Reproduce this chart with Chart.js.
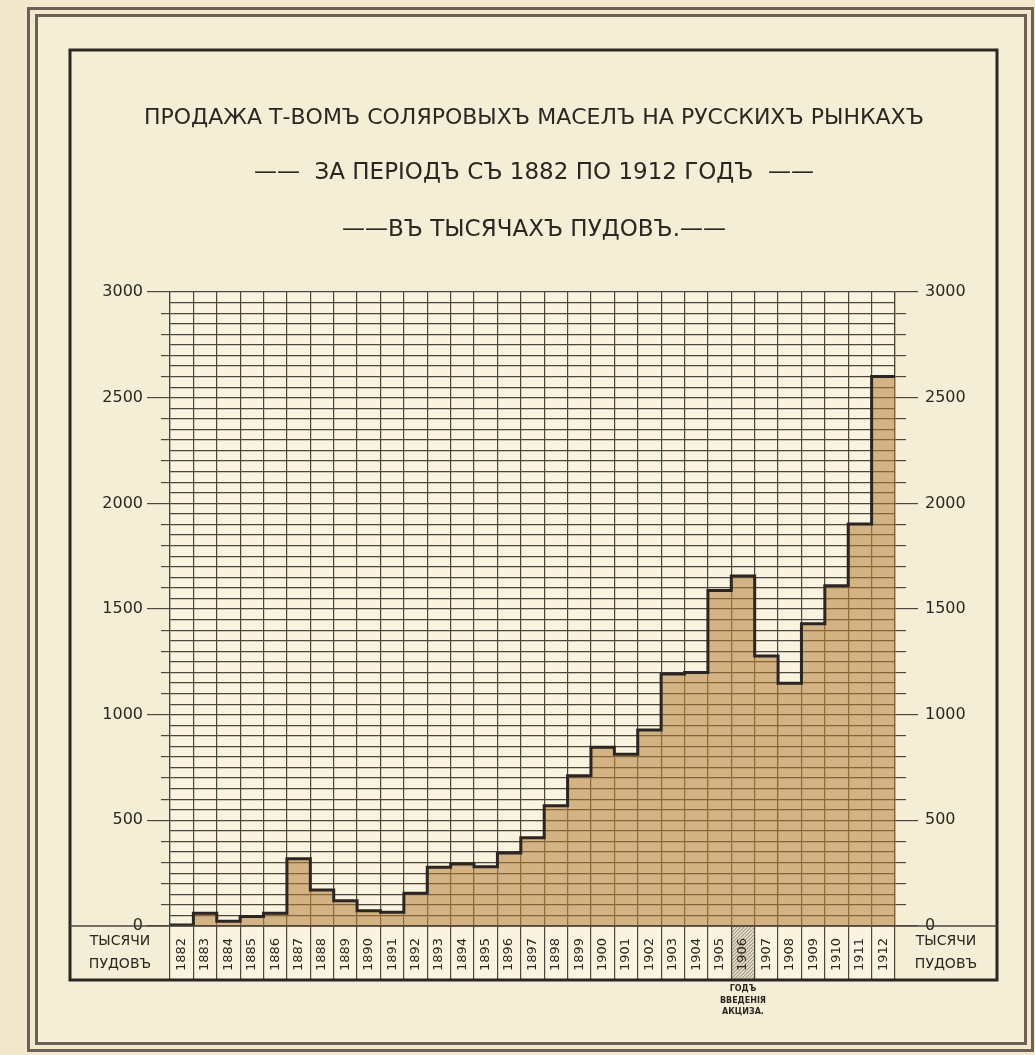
<!DOCTYPE html>
<html lang="ru">
<head>
<meta charset="utf-8">
<title>Продажа соляровых масел 1882–1912</title>
<script src="https://cdn.jsdelivr.net/npm/chart.js@4.4.1/dist/chart.umd.min.js"></script>
<style>
  html, body { margin: 0; padding: 0; background: #f2e9cd; }
  canvas { display: block; }
</style>
</head>
<body>
<canvas id="chart" width="1035" height="1055"></canvas>
<script>
  // годы и продажа в тысячах пудов
  const years = [1882, 1883, 1884, 1885, 1886, 1887, 1888, 1889, 1890, 1891,
                 1892, 1893, 1894, 1895, 1896, 1897, 1898, 1899, 1900, 1901,
                 1902, 1903, 1904, 1905, 1906, 1907, 1908, 1909, 1910, 1911, 1912];
  const sales = [5, 60, 22, 45, 60, 318, 170, 120, 72, 65,
                 155, 278, 293, 280, 345, 418, 569, 711, 846, 813,
                 928, 1193, 1199, 1587, 1656, 1278, 1149, 1430, 1610, 1902, 2600];
  const exciseYear = 1906;
  const exciseNote = ['ГОДЪ', 'ВВЕДЕНІЯ', 'АКЦИЗА.'];
  const unitLabel = ['ТЫСЯЧИ', 'ПУДОВЪ'];

  const ink = '#2b2621';
  const gridInk = '#4d453e';
  const font = "'DejaVu Sans', sans-serif";

  // ступенчатый контур по границам столбцов
  const stepPoints = sales.map((v, i) => ({ x: i - 0.5, y: v }));
  stepPoints.push({ x: sales.length - 0.5, y: sales[sales.length - 1] });

  const ROW_H = 54;   // строка с годами под графиком

  const paper = {
    id: 'paper',
    beforeDraw(chart) {
      const { ctx, chartArea: a, scales } = chart;
      const rowBottom = a.bottom + ROW_H;
      ctx.save();
      ctx.fillStyle = '#f2e9cd';
      ctx.fillRect(0, 0, chart.width, chart.height);
      ctx.fillStyle = '#f5eed6';
      ctx.fillRect(36, 15, 990, 1028);
      ctx.fillStyle = '#f9f3df';
      ctx.fillRect(a.left, a.top, a.right - a.left, rowBottom - a.top);

      // штриховка года введения акциза
      const i = years.indexOf(exciseYear);
      const x0 = scales.xs.getPixelForValue(i - 0.5);
      const x1 = scales.xs.getPixelForValue(i + 0.5);
      ctx.beginPath();
      ctx.rect(x0, a.bottom, x1 - x0, ROW_H);
      ctx.clip();
      ctx.fillStyle = '#e6dcc4';
      ctx.fillRect(x0, a.bottom, x1 - x0, ROW_H);
      ctx.strokeStyle = '#8d8379';
      ctx.lineWidth = 1;
      for (let d = -ROW_H; d < x1 - x0 + ROW_H; d += 3.5) {
        ctx.beginPath();
        ctx.moveTo(x0 + d, rowBottom);
        ctx.lineTo(x0 + d + ROW_H, a.bottom);
        ctx.stroke();
      }
      ctx.restore();
    },
    afterDraw(chart) {
      const { ctx, chartArea: a, scales } = chart;
      const rowBottom = a.bottom + ROW_H;
      ctx.save();

      // двойная рамка листа
      ctx.strokeStyle = '#6c6057';
      ctx.lineWidth = 3;
      ctx.strokeRect(28.5, 8.5, 1004, 1042);
      ctx.strokeRect(36.5, 15.5, 989, 1028);

      // рамка таблицы
      ctx.strokeStyle = ink;
      ctx.lineWidth = 3;
      ctx.strokeRect(70, 50, 927, rowBottom - 50);

      // линия нуля через всю ширину
      ctx.lineWidth = 1.5;
      ctx.strokeStyle = gridInk;
      ctx.beginPath();
      ctx.moveTo(70, a.bottom);
      ctx.lineTo(997, a.bottom);
      ctx.stroke();

      // подписи единиц в крайних клетках
      ctx.fillStyle = ink;
      ctx.textAlign = 'center';
      ctx.textBaseline = 'middle';
      ctx.font = "14px " + font;
      const lx = (70 + a.left) / 2;
      const rx = (a.right + 997) / 2;
      unitLabel.forEach((t, k) => {
        ctx.fillText(t, lx, a.bottom + 15 + k * 23);
        ctx.fillText(t, rx, a.bottom + 15 + k * 23);
      });

      // примечание под 1906 годом
      const i = years.indexOf(exciseYear);
      const cx = scales.xs.getPixelForValue(i);
      ctx.font = "bold 8px " + font;
      exciseNote.forEach((t, k) => ctx.fillText(t, cx, rowBottom + 9 + k * 11.5));
      ctx.restore();
    }
  };

  const tick100 = c => (c.tick && c.tick.value % 100 === 0) ? gridInk : 'rgba(0,0,0,0)';
  const plain = { useGrouping: false };

  const chart = new Chart(document.getElementById('chart'), {
    data: {
      labels: years,
      datasets: [{
        type: 'line',
        data: stepPoints,
        xAxisID: 'xs',
        yAxisID: 'y',
        stepped: 'before',
        borderColor: ink,
        borderWidth: 3,
        pointRadius: 0,
        fill: false,
        order: 1
      }, {
        type: 'bar',
        data: sales,
        xAxisID: 'x',
        yAxisID: 'y',
        backgroundColor: 'rgba(180,125,55,0.55)',
        borderWidth: 0,
        grouped: false,
        categoryPercentage: 1,
        barPercentage: 1,
        order: 2
      }]
    },
    options: {
      responsive: false,
      animation: false,
      events: [],
      layout: { padding: { left: 33, right: 0, top: 0, bottom: 75 } },
      plugins: {
        legend: { display: false },
        tooltip: { enabled: false },
        title: {
          display: true,
          text: 'ПРОДАЖА Т-ВОМЪ СОЛЯРОВЫХЪ МАСЕЛЪ НА РУССКИХЪ РЫНКАХЪ',
          color: ink,
          font: { family: font, size: 22, weight: 'normal', lineHeight: 1.2 },
          padding: { top: 105, bottom: 0 }
        },
        subtitle: {
          display: true,
          text: ['——  ЗА ПЕРІОДЪ СЪ 1882 ПО 1912 ГОДЪ  ——', '——ВЪ ТЫСЯЧАХЪ ПУДОВЪ.——'],
          color: ink,
          font: { family: font, size: 23, weight: 'normal', lineHeight: 2.47 },
          padding: { top: 13, bottom: 34 }
        }
      },
      scales: {
        x: {
          type: 'category',
          offset: true,
          grid: { offset: true, color: gridInk, tickColor: gridInk, lineWidth: 1.2, tickLength: 53 },
          border: { color: gridInk, width: 1.2 },
          ticks: {
            color: ink, font: { family: font, size: 13 },
            minRotation: 90, maxRotation: 90, autoSkip: false, padding: -41
          },
          afterFit: s => { s.height = ROW_H; }
        },
        xs: { type: 'linear', display: false, offset: false, min: -0.5, max: years.length - 0.5 },
        y: {
          position: 'left', weight: 0, min: 0, max: 3000,
          ticks: { display: false, stepSize: 50 },
          grid: { color: gridInk, tickColor: tick100, lineWidth: 1.2, tickLength: 9 },
          border: { color: gridInk, width: 1.2 },
          afterFit: s => { s.width = 9; }
        },
        yl: {
          position: 'left', weight: 1, min: 0, max: 3000,
          ticks: { stepSize: 500, format: plain, color: ink, padding: 4, font: { family: font, size: 16 } },
          grid: { drawOnChartArea: false, tickColor: gridInk, lineWidth: 1.2, tickLength: 14 },
          border: { display: false },
          afterFit: s => { s.width = 128; }
        },
        y2: {
          position: 'right', weight: 0, min: 0, max: 3000,
          ticks: { display: false, stepSize: 50 },
          grid: { drawOnChartArea: false, tickColor: tick100, lineWidth: 1.2, tickLength: 11 },
          border: { color: gridInk, width: 1.2 },
          afterFit: s => { s.width = 11; }
        },
        y2l: {
          position: 'right', weight: 1, min: 0, max: 3000,
          ticks: { stepSize: 500, format: plain, color: ink, padding: 7, font: { family: font, size: 16 } },
          grid: { drawOnChartArea: false, tickColor: gridInk, lineWidth: 1.2, tickLength: 12 },
          border: { display: false },
          afterFit: s => { s.width = 129; }
        }
      }
    },
    plugins: [paper]
  });
</script>
</body>
</html>
